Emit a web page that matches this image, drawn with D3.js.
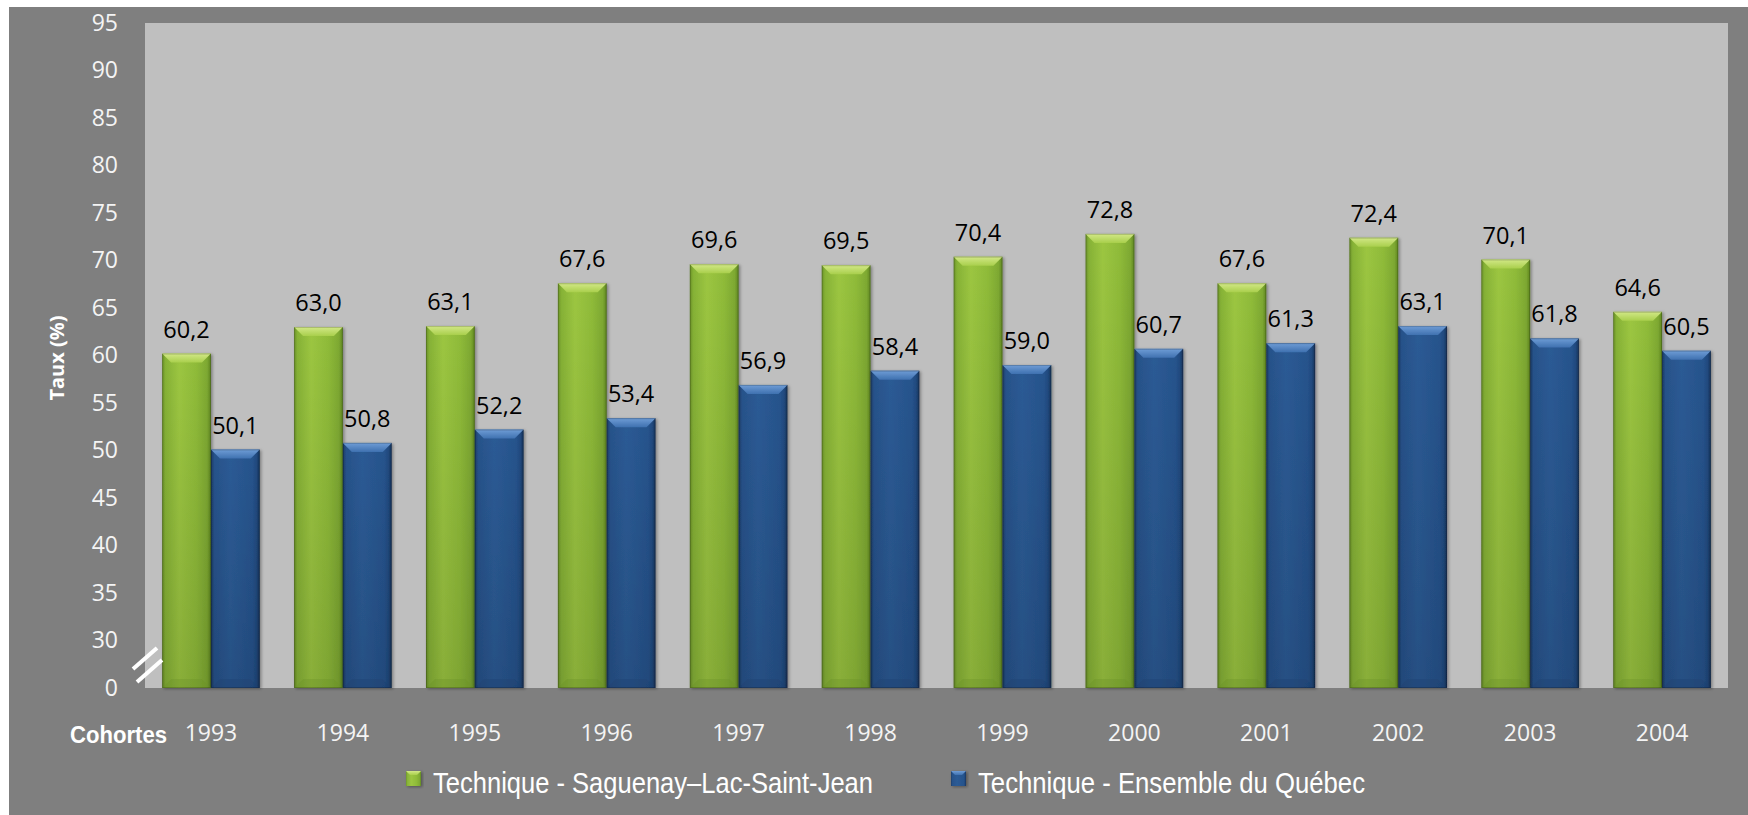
<!DOCTYPE html>
<html><head><meta charset="utf-8">
<script src="https://cdn.jsdelivr.net/npm/d3@7"></script>
<style>
html,body{margin:0;padding:0;background:#fff;}
svg{display:block;}
</style></head>
<body>
<svg id="chart" width="1748" height="815"></svg>
<script>
// ---- data ----
const cohorts = ["1993","1994","1995","1996","1997","1998","1999","2000","2001","2002","2003","2004"];
const slsj = [60.2,63.0,63.1,67.6,69.6,69.5,70.4,72.8,67.6,72.4,70.1,64.6];
const quebec = [50.1,50.8,52.2,53.4,56.9,58.4,59.0,60.7,61.3,63.1,61.8,60.5];
const seriesNames = ["Technique - Saguenay\u2013Lac-Saint-Jean","Technique - Ensemble du Qu\u00e9bec"];
const yTickValues = [25,30,35,40,45,50,55,60,65,70,75,80,85,90,95];
const yTickLabels = ["0","30","35","40","45","50","55","60","65","70","75","80","85","90","95"];

const svg = d3.select("#chart");
const W = 1748, H = 815;
const plot = {left:145, top:23, right:1728, bottom:688};

// background
svg.append("rect").attr("x",9).attr("y",7).attr("width",W-9).attr("height",H-7).attr("fill","#7f7f7f");
svg.append("rect").attr("x",plot.left).attr("y",plot.top)
  .attr("width",plot.right-plot.left).attr("height",plot.bottom-plot.top).attr("fill","#bfbfbf");

const x = d3.scaleBand().domain(cohorts).range([plot.left,plot.right]).paddingInner(0.26).paddingOuter(0.13);
const xs = d3.scaleBand().domain([0,1]).range([0,x.bandwidth()]);
const y = d3.scaleLinear().domain([25,95]).range([plot.bottom,plot.top]);

const locale = d3.formatLocale({decimal:",",thousands:" ",grouping:[3],currency:["","$"]});
const fmt = locale.format(".1f");

// gradients
const defs = svg.append("defs");
function hgrad(id, stops){
  const g = defs.append("linearGradient").attr("id",id).attr("x1","0").attr("x2","1").attr("y1","0").attr("y2","0");
  stops.forEach(s=>g.append("stop").attr("offset",s[0]).attr("stop-color",s[1]));
}
hgrad("gGreen",[["0%","#6a9128"],["7%","#86b236"],["35%","#9cc641"],["70%","#8fbb39"],["92%","#7ea932"],["100%","#5e8520"]]);
hgrad("gBlue",[["0%","#1b3a63"],["7%","#27528a"],["40%","#2c5b95"],["85%","#26538c"],["93%","#214a7f"],["100%","#17335a"]]);
const vg = defs.append("linearGradient").attr("id","vShade").attr("x1","0").attr("x2","0").attr("y1","0").attr("y2","1");
vg.append("stop").attr("offset","0%").attr("stop-color","#000").attr("stop-opacity",0);
vg.append("stop").attr("offset","100%").attr("stop-color","#000").attr("stop-opacity",0.12);
function vgrad(id,c1,c2){
  const g = defs.append("linearGradient").attr("id",id).attr("x1","0").attr("x2","0").attr("y1","0").attr("y2","1");
  g.append("stop").attr("offset","0%").attr("stop-color",c1);
  g.append("stop").attr("offset","100%").attr("stop-color",c2);
}
vgrad("topGreen","#d2e887","#a9cf4c");
vgrad("topBlue","#6f9dd6","#3f71b0");
const f = defs.append("filter").attr("id","shadow").attr("x","-10%").attr("y","-10%").attr("width","130%").attr("height","130%");
f.append("feDropShadow").attr("dx",1.5).attr("dy",1).attr("stdDeviation",1.5).attr("flood-color","#000").attr("flood-opacity",0.35);

const seriesCfg = [
  {vals:slsj, fill:"url(#gGreen)", top:"url(#topGreen)", bottom:"#6b9228"},
  {vals:quebec, fill:"url(#gBlue)", top:"url(#topBlue)", bottom:"#1d4070"}
];

const bw = xs.bandwidth();
const bev = 9;
seriesCfg.forEach((s,si)=>{
  const g = svg.append("g");
  const bars = g.selectAll("g.bar").data(cohorts.map((c,i)=>({c, v:s.vals[i]}))).join("g").attr("class","bar")
    .attr("filter","url(#shadow)");
  bars.each(function(d){
    const b = d3.select(this);
    const x0 = x(d.c) + xs(si), yt = y(d.v), yb = y(25);
    b.append("rect").attr("x",x0).attr("y",yt).attr("width",bw).attr("height",yb-yt).attr("fill",s.fill);
    b.append("rect").attr("x",x0).attr("y",yt).attr("width",bw).attr("height",yb-yt).attr("fill","url(#vShade)");
    // top bevel
    b.append("path").attr("d",`M${x0},${yt}L${x0+bw},${yt}L${x0+bw-bev},${yt+bev}L${x0+bev},${yt+bev}Z`).attr("fill",s.top);
    // bottom bevel
    b.append("path").attr("d",`M${x0},${yb}L${x0+bw},${yb}L${x0+bw-bev},${yb-bev}L${x0+bev},${yb-bev}Z`).attr("fill",s.bottom).attr("opacity",0.35);
    // outline
    b.append("rect").attr("x",x0+0.5).attr("y",yt+0.5).attr("width",bw-1).attr("height",yb-yt-1)
      .attr("fill","none").attr("stroke","#000").attr("stroke-opacity",0.18);
  });
  // labels
  g.selectAll("text.lbl").data(cohorts.map((c,i)=>({c, v:s.vals[i]}))).join("text").attr("class","lbl")
    .attr("x",d=>x(d.c)+xs(si)+bw/2).attr("y",d=>y(d.v)-16)
    .attr("text-anchor","middle").attr("font-family","'Open Sans', sans-serif").attr("font-size",23.5)
    .attr("fill","#000").text(d=>fmt(d.v));
});

// y axis
const yAxis = svg.append("g").attr("transform",`translate(${plot.left},0)`)
  .call(d3.axisLeft(y).tickValues(yTickValues).tickFormat((d,i)=>yTickLabels[i]).tickSize(0).tickPadding(27));
yAxis.select(".domain").remove();
yAxis.selectAll("text").attr("font-family","'Open Sans', sans-serif").attr("font-size",23).attr("fill","#f4f4f4");

// x axis
const xAxis = svg.append("g").attr("transform",`translate(0,${plot.bottom})`)
  .call(d3.axisBottom(x).tickSize(0).tickPadding(37));
xAxis.select(".domain").remove();
xAxis.selectAll("text").attr("font-family","'Open Sans', sans-serif").attr("font-size",23).attr("fill","#f4f4f4");

// axis break marks
svg.append("line").attr("x1",133).attr("y1",669).attr("x2",157).attr("y2",648).attr("stroke","#fff").attr("stroke-width",4);
svg.append("line").attr("x1",137).attr("y1",682).attr("x2",162).attr("y2",660).attr("stroke","#fff").attr("stroke-width",4);

// axis titles
svg.append("text").attr("transform","translate(64,358) rotate(-90)").attr("text-anchor","middle")
  .attr("font-family","'Open Sans', sans-serif").attr("font-weight","bold").attr("font-size",19)
  .attr("fill","#fff").attr("textLength",85).attr("lengthAdjust","spacingAndGlyphs").text("Taux (%)");
svg.append("text").attr("x",70).attr("y",743)
  .attr("font-family","'Liberation Sans Narrow','Arial Narrow','Liberation Sans',sans-serif").attr("font-weight","bold").attr("font-size",23)
  .attr("fill","#fff").attr("textLength",97).attr("lengthAdjust","spacingAndGlyphs").text("Cohortes");

// legend
const legendX = [406, 951];
const legendW = [440, 387];
const legend = svg.append("g");
seriesNames.forEach((name,i)=>{
  legend.append("rect").attr("x",legendX[i]).attr("y",771).attr("width",15).attr("height",15)
    .attr("fill",seriesCfg[i].fill).attr("filter","url(#shadow)");
  legend.append("path").attr("d",`M${legendX[i]},771L${legendX[i]+15},771L${legendX[i]+11},775L${legendX[i]+4},775Z`).attr("fill",seriesCfg[i].top);
  legend.append("text").attr("x",legendX[i]+27).attr("y",793)
    .attr("font-family","'Liberation Sans Narrow','Arial Narrow','Liberation Sans',sans-serif").attr("font-size",30)
    .attr("fill","#fff").attr("textLength",legendW[i]).attr("lengthAdjust","spacingAndGlyphs").text(name);
});
</script>
</body></html>
